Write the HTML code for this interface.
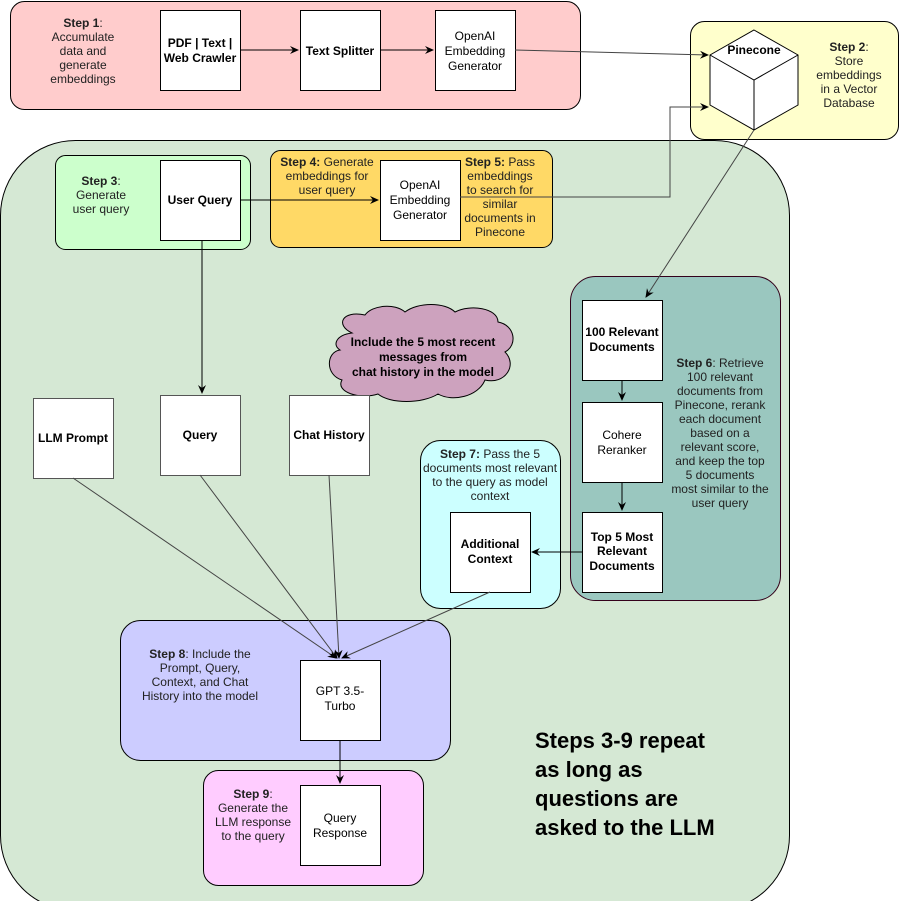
<!DOCTYPE html>
<html><head><meta charset="utf-8"><style>
html,body{margin:0;padding:0;background:#fff;}
svg{display:block;font-family:"Liberation Sans",Arial,sans-serif;font-size:12px;}
.b{font-weight:bold;}
</style></head><body>
<svg width="900" height="901" viewBox="0 0 900 901" xmlns="http://www.w3.org/2000/svg">
<defs>
<marker id="a" markerWidth="10" markerHeight="10" refX="8" refY="5" orient="auto" markerUnits="userSpaceOnUse">
<path d="M0,1 L9,5 L0,9 L3,5 Z" fill="#000"/></marker>
</defs>
<rect x="0.5" y="140.5" width="789" height="770" rx="75" fill="#d5e8d4" stroke="#000"/>
<rect x="10.5" y="1.5" width="570" height="108" rx="14" fill="#ffcccc" stroke="#000"/>
<rect x="690.5" y="21.5" width="208" height="118" rx="14" fill="#ffffcc" stroke="#000"/>
<rect x="55.5" y="155.5" width="195" height="94" rx="10" fill="#ccffcc" stroke="#000"/>
<rect x="270.5" y="150.5" width="282" height="97" rx="10" fill="#ffd966" stroke="#000"/>
<rect x="570.5" y="276.5" width="210" height="324" rx="25" fill="#9ac7bf" stroke="#33001a"/>
<rect x="420.5" y="440.5" width="140" height="168" rx="20" fill="#ccffff" stroke="#000"/>
<rect x="120.5" y="620.5" width="330" height="140" rx="20" fill="#ccccff" stroke="#000"/>
<rect x="203.5" y="770.5" width="220" height="115" rx="15" fill="#ffccff" stroke="#000"/>
<!-- cloud -->
<path d="M352,333 C335,325 342,310 365,315 C372,305 395,303 405,312 C418,302 445,302 455,312 C470,304 498,308 498,322 C515,325 518,345 505,352 C518,365 505,385 485,380 C478,397 452,402 438,394 C422,404 390,404 378,394 C360,400 335,392 342,380 C325,375 326,352 340,350 C332,345 336,335 352,333 Z" fill="#cda2be" stroke="#000"/>
<text class="b" text-anchor="middle" x="423" y="346">Include the 5 most recent</text>
<text class="b" text-anchor="middle" x="423" y="361">messages from</text>
<text class="b" text-anchor="middle" x="423" y="376">chat history in the model</text>
<path d="M754,30 L798,55 L798,105 L754,130 L710,105 L710,55 Z" fill="#fff" stroke="#000"/>
<path d="M710,55 L754,80 L798,55 M754,80 L754,130" fill="none" stroke="#000"/>
<text class="b" text-anchor="middle" x="754" y="54">Pinecone</text>
<g fill="#fff" stroke="#000">
<rect x="160.5" y="10.5" width="80" height="80"/>
<rect x="300.5" y="10.5" width="80" height="80"/>
<rect x="435.5" y="10.5" width="80" height="80"/>
<rect x="160.5" y="160.5" width="80" height="80"/>
<rect x="380.5" y="160.5" width="80" height="80"/>
<rect x="582.5" y="300.5" width="80" height="80"/>
<rect x="582.5" y="402.5" width="80" height="80"/>
<rect x="582.5" y="512.5" width="80" height="80"/>
<rect x="450.5" y="512.5" width="80" height="80"/>
<rect x="300.5" y="660.5" width="80" height="80"/>
<rect x="300.5" y="785.5" width="80" height="80"/>
</g>
<g fill="#fff" stroke="#555">
<rect x="33.5" y="398.5" width="80" height="80"/>
<rect x="160.5" y="395.5" width="80" height="80"/>
<rect x="289.5" y="395.5" width="80" height="80"/>
</g>
<g stroke="#000" fill="none">
<path d="M240,50 L298,50" marker-end="url(#a)"/>
<path d="M380,50 L433,50" marker-end="url(#a)"/>
<path d="M240,200 L378,200" marker-end="url(#a)"/>
<path d="M202,240 L202,393" marker-end="url(#a)"/>
<path d="M622,380 L622,400" marker-end="url(#a)"/>
<path d="M622,482 L622,510" marker-end="url(#a)"/>
<path d="M582,552 L532,552" marker-end="url(#a)"/>
<path d="M340,740 L340,783" marker-end="url(#a)"/>
</g>
<g stroke="#444" fill="none">
<path d="M515,50 L708,55" marker-end="url(#a)"/>
<path d="M460,197 L670,197 L670,107 L708,107" marker-end="url(#a)"/>
<path d="M754,130 L646,297" marker-end="url(#a)"/>
<path d="M73,478 L336,658" marker-end="url(#a)"/>
<path d="M200,475 L337,658" marker-end="url(#a)"/>
<path d="M329,475 L339,658" marker-end="url(#a)"/>
<path d="M490,592 L342,658" marker-end="url(#a)"/>
</g>
<g text-anchor="middle">
<text class="b" x="200" y="47">PDF | Text |</text><text class="b" x="200" y="62">Web Crawler</text>
<text class="b" x="340" y="55">Text Splitter</text>
<text x="475" y="40">OpenAI</text><text x="475" y="55">Embedding</text><text x="475" y="70">Generator</text>
<text class="b" x="200" y="204">User Query</text>
<text x="420" y="189">OpenAI</text><text x="420" y="204">Embedding</text><text x="420" y="219">Generator</text>
<text class="b" x="622" y="336">100 Relevant</text><text class="b" x="622" y="351">Documents</text>
<text x="622" y="439">Cohere</text><text x="622" y="454">Reranker</text>
<text class="b" x="622" y="541">Top 5 Most</text><text class="b" x="622" y="555">Relevant</text><text class="b" x="622" y="570">Documents</text>
<text class="b" x="490" y="548">Additional</text><text class="b" x="490" y="563">Context</text>
<text class="b" x="73" y="442">LLM Prompt</text>
<text class="b" x="200" y="439">Query</text>
<text class="b" x="329" y="439">Chat History</text>
<text x="340" y="695">GPT 3.5-</text><text x="340" y="710">Turbo</text>
<text x="340" y="822">Query</text><text x="340" y="837">Response</text>
</g>
<g text-anchor="middle" fill="#222">
<text x="83" y="27"><tspan class="b">Step 1</tspan>:</text>
<text x="83" y="41">Accumulate</text><text x="83" y="55">data and</text><text x="83" y="69">generate</text><text x="83" y="83">embeddings</text>
<text x="849" y="51"><tspan class="b">Step 2</tspan>:</text>
<text x="849" y="65">Store</text><text x="849" y="79">embeddings</text><text x="849" y="93">in a Vector</text><text x="849" y="107">Database</text>
<text x="101" y="185"><tspan class="b">Step 3</tspan>:</text>
<text x="101" y="199">Generate</text><text x="101" y="213">user query</text>
<text x="327" y="166"><tspan class="b">Step 4:</tspan> Generate</text>
<text x="327" y="180">embeddings for</text><text x="327" y="194">user query</text>
<text x="500" y="166"><tspan class="b">Step 5:</tspan> Pass</text>
<text x="500" y="180">embeddings</text><text x="500" y="194">to search for</text><text x="500" y="208">similar</text><text x="500" y="222">documents in</text><text x="500" y="236">Pinecone</text>
<text x="720" y="367"><tspan class="b">Step 6</tspan>: Retrieve</text>
<text x="720" y="381">100 relevant</text><text x="720" y="395">documents from</text><text x="720" y="409">Pinecone, rerank</text><text x="720" y="423">each document</text><text x="720" y="437">based on a</text><text x="720" y="451">relevant score,</text><text x="720" y="465">and keep the top</text><text x="720" y="479">5 documents</text><text x="720" y="493">most similar to the</text><text x="720" y="507">user query</text>
<text x="490" y="458"><tspan class="b">Step 7:</tspan> Pass the 5</text>
<text x="490" y="472">documents most relevant</text><text x="490" y="486">to the query as model</text><text x="490" y="500">context</text>
<text x="200" y="658"><tspan class="b">Step 8</tspan>: Include the</text>
<text x="200" y="672">Prompt, Query,</text><text x="200" y="686">Context, and Chat</text><text x="200" y="700">History into the model</text>
<text x="253" y="798"><tspan class="b">Step 9</tspan>:</text>
<text x="253" y="812">Generate the</text><text x="253" y="826">LLM response</text><text x="253" y="840">to the query</text>
</g>
<g font-size="22" font-weight="bold" fill="#000">
<text x="535" y="748">Steps 3-9 repeat</text>
<text x="535" y="777">as long as</text>
<text x="535" y="806">questions are</text>
<text x="535" y="835">asked to the LLM</text>
</g>
</svg>
</body></html>
